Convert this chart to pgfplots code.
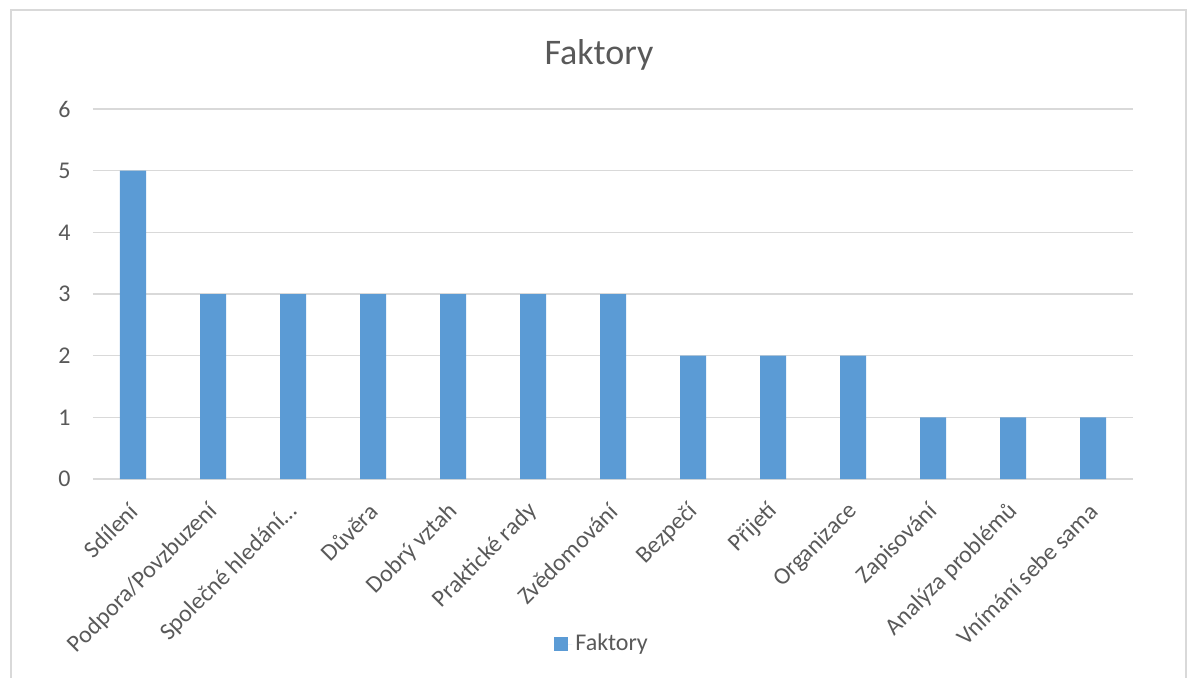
\documentclass[border=0pt]{standalone}
\usepackage{pgfplots}
\pgfplotsset{compat=1.18}
\usepackage{fontspec}
\setmainfont{Carlito}
\definecolor{barblue}{HTML}{5B9BD5}
\definecolor{gridgray}{HTML}{D9D9D9}
\definecolor{txtgray}{HTML}{595959}
\begin{document}
\begin{tikzpicture}[x=0.5pt,y=0.5pt]
  % page frame
  \path[use as bounding box] (0,0) rectangle (1188,677);
  \begin{scope}
    \clip (0,0) rectangle (1188,677);
    \draw[gridgray, line width=0.75pt] (11,-10) rectangle (1186,667);
  \end{scope}
  % chart title
  \node[txtgray, anchor=base, inner sep=0pt, font=\fontsize{18pt}{21pt}\selectfont] at (599,612.7) {Faktory};
  \begin{axis}[
    at={(46.5pt,99pt)}, anchor=south west,
    width=520pt, height=185pt, scale only axis,
    xmin=-0.5, xmax=12.5, ymin=0, ymax=6,
    ybar, bar width=0.325,
    axis line style={draw=none},
    major tick length=0pt,
    ymajorgrids, grid style={gridgray, line width=0.75pt},
    ytick={0,1,2,3,4,5,6},
    xtick={0,...,12},
    xticklabels={Sdílení, Podpora/Povzbuzení, Společné hledání…, Důvěra, Dobrý vztah, Praktické rady, Zvědomování, Bezpečí, Přijetí, Organizace, Zapisování, Analýza problémů, Vnímání sebe sama},
    /pgf/number format/assume math mode=true,
    tick label style={txtgray, font=\fontsize{12pt}{14pt}\selectfont},
    yticklabel style={anchor=east, inner sep=0pt, xshift=-11pt},
    xticklabel style={rotate=45, anchor=east, inner sep=0pt, xshift=-9.7pt, yshift=-10.4pt},
    legend style={at={(0.49,-0.446)}, anchor=center, draw=none, fill=none,
      font=\fontsize{12pt}{14pt}\selectfont, text=txtgray,
      nodes={inner sep=1.5pt}},
  ]
    \addplot[fill=barblue, draw=none,
      legend image code/.code={\fill[barblue] (0pt,-3.5pt) rectangle (7pt,3.5pt);
        \path (0pt,0pt) -- (9pt,0pt);}]
      coordinates {(0,5) (1,3) (2,3) (3,3) (4,3) (5,3) (6,3) (7,2) (8,2) (9,2) (10,1) (11,1) (12,1)};
    \addlegendentry{Faktory}
  \end{axis}
\end{tikzpicture}
\end{document}
